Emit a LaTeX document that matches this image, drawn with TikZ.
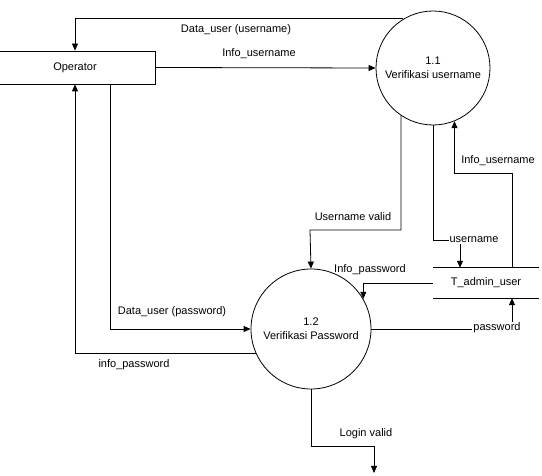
\documentclass[tikz,border=0pt]{standalone}
\usepackage{fontspec}
\setmainfont{Liberation Sans}
\usetikzlibrary{arrows.meta}

\tikzset{
  flow/.style={line width=0.8pt,-{Triangle[length=7pt,width=6pt]}},
  proc/.style={draw,line width=0.8pt,circle,align=center,inner sep=0pt},
  lbl/.style={inner sep=1pt},
}

\begin{document}
\begin{tikzpicture}[x=1pt,y=-1pt,font=\fontsize{11}{14}\selectfont]
\useasboundingbox (0,0) rectangle (542,476);

% entity, processes and data store
\node[draw,line width=0.8pt,minimum width=160pt,minimum height=33pt] (op) at (75,67.5) {Operator};
\node[proc,minimum size=114pt] (p11) at (433,68) {1.1\\Verifikasi username};
\node[proc,minimum size=120pt] (p12) at (311,329) {1.2\\Verifikasi Password};
\node[minimum width=106pt,minimum height=30pt] (store) at (486,283) {T\_admin\_user};
\draw[line width=0.8pt] (store.north west) -- (store.north east);
\draw[line width=0.8pt] (store.south west) -- (store.south east);

% bend points
\coordinate (b1) at (310,230);
\coordinate (b2) at (460,240);
\coordinate (b3) at (512,173);
\coordinate (b4) at (374,446);
\coordinate (out) at (374,473);

% flows
\draw[flow] (p11.121) -| (op.north);
\draw[flow] (op.east) -- (p11.west);
\draw[flow] (p11.236) |- (b1) -- (p12.north);
\draw[flow] (p11.south) |- (b2) -- (b2 |- store.north);
\draw[flow] (store.north -| b3) -- (b3) -| (p11.292);
\draw[flow] (store.west) -| (p12.30);
\draw[flow] (p12.east) -| (store.south -| b3);
\draw[flow] ([xshift=35pt]op.south) |- (p12.west);
\draw[flow] (p12.204) -| (op.south);
\draw[flow] (p12.south) |- (b4) -- (out);

% labels
\node[lbl] (l1) at (236,30) {Data\_user (username)};
\node[lbl] (l2) at (259,54) {Info\_username};
\node[lbl] (l3) at (353,217) {Username valid};
\node[lbl] (l4) at (498,161) {Info\_username};
\node[lbl,fill=white] (l5) at (474,240) {username};
\node[lbl] (l6) at (370,270) {Info\_password};
\node[lbl,fill=white] (l7) at (497,328) {password};
\node[lbl] (l8) at (172,312) {Data\_user (password)};
\node[lbl] (l9) at (134,365) {info\_password};
\node[lbl] (l10) at (366,434) {Login valid};
\end{tikzpicture}
\end{document}
